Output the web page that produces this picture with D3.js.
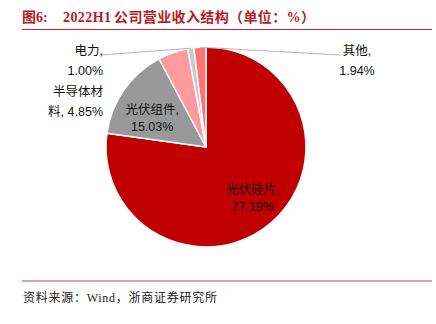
<!DOCTYPE html>
<html><head><meta charset="utf-8">
<script src="https://cdn.jsdelivr.net/npm/d3@7"></script>
<style>
html,body{margin:0;padding:0;background:#fff;}
svg{display:block;}
</style>
</head><body>
<svg id="c" width="436" height="324"></svg>
<script>
// ---- data ----
const categories = ["光伏硅片", "光伏组件", "半导体材料", "电力", "其他"];
const values = [77.19, 15.03, 4.85, 1.00, 1.94];
const valueLabels = ["77.19%", "15.03%", "4.85%", "1.00%", "1.94%"];
const titleParts = ["图6:", "2022H1", "公司营业收入结构（单位：%）"];
const sourceText = "资料来源：Wind，浙商证券研究所";

// ---- styles / layout ----
const colors = ["#C00000", "#999999", "#FF9AA0", "#C9C9C9", "#FF7373"];
const cx = 206, cy = 147, R = 100;
const svg = d3.select("#c");
const labelFont = "'Liberation Sans', Arial, 'Noto Sans CJK SC', sans-serif";
const serifFont = "'Liberation Serif', 'Times New Roman', 'Noto Sans CJK SC', serif";

// header
const title = svg.append("text").attr("y", 22)
  .attr("font-family", serifFont).attr("font-weight", "bold")
  .attr("font-size", 14).attr("fill", "#B81C22");
title.append("tspan").attr("x", 22).text(titleParts[0]);
title.append("tspan").attr("x", 63).attr("textLength", 48).attr("lengthAdjust", "spacing").text(titleParts[1]);
title.append("tspan").attr("x", 114).attr("textLength", 201).attr("lengthAdjust", "spacing").text(titleParts[2]);
svg.append("line").attr("x1", 22).attr("x2", 432).attr("y1", 29.5).attr("y2", 29.5)
  .attr("stroke", "#C8282E").attr("stroke-width", 1);

// footer
svg.append("line").attr("x1", 22).attr("x2", 432).attr("y1", 281).attr("y2", 281)
  .attr("stroke", "#E07B7E").attr("stroke-width", 1.5);
svg.append("text").attr("x", 23).attr("y", 302)
  .attr("font-family", serifFont).attr("font-size", 12).attr("fill", "#222")
  .attr("textLength", 194).attr("lengthAdjust", "spacing").text(sourceText);

// pie
const pie = d3.pie().sort(null).value(d => d)(values);
const arc = d3.arc().innerRadius(0).outerRadius(R);
const g = svg.append("g").attr("transform", `translate(${cx},${cy})`);
g.selectAll("path").data(pie).enter().append("path")
  .attr("d", arc).attr("fill", (d, i) => colors[i])
  .attr("stroke", "#fff").attr("stroke-width", 1.5).attr("stroke-linejoin", "round");

// inner labels (centroid-based)
const inner = [
  {i: 0, r: 0.68, dx: 2, dy: 0},
  {i: 1, r: 0.62, dx: -3, dy: 6}
];
inner.forEach(o => {
  const a = (pie[o.i].startAngle + pie[o.i].endAngle) / 2;
  const x = Math.sin(a) * R * o.r + o.dx, y = -Math.cos(a) * R * o.r + o.dy;
  const t = g.append("text").attr("text-anchor", "middle")
    .attr("font-family", labelFont).attr("font-size", 12.5).attr("fill", "#111");
  t.append("tspan").attr("x", x).attr("y", y - 4).text(categories[o.i] + ",");
  t.append("tspan").attr("x", x).attr("y", y + 13).text(valueLabels[o.i]);
});

// outer labels (relative to pie centre)
const outer = [
  {i: 2, lines: ["半导体材", "料, " + valueLabels[2]], x: -103, y: -51, anchor: "end", leader: null},
  {i: 3, lines: [categories[3] + ",", valueLabels[3]], x: -103, y: -92, anchor: "end", leader: [-104, -92]},
  {i: 4, lines: [categories[4] + ",", valueLabels[4]], x: 151, y: -92, anchor: "middle", leader: [134, -92]}
];
outer.forEach(o => {
  const a = (pie[o.i].startAngle + pie[o.i].endAngle) / 2;
  if (o.leader) {
    const px = Math.sin(a) * R, py = -Math.cos(a) * R;
    g.append("line").attr("x1", px).attr("y1", py)
      .attr("x2", o.leader[0]).attr("y2", o.leader[1])
      .attr("stroke", "#B5B5B5").attr("stroke-width", 1);
  }
  const t = g.append("text").attr("text-anchor", o.anchor)
    .attr("font-family", labelFont).attr("font-size", 12.5).attr("fill", "#111");
  o.lines.forEach((s, k) => {
    t.append("tspan").attr("x", o.x).attr("y", o.y + k * 19.5).text(s);
  });
});
</script>
</body></html>
